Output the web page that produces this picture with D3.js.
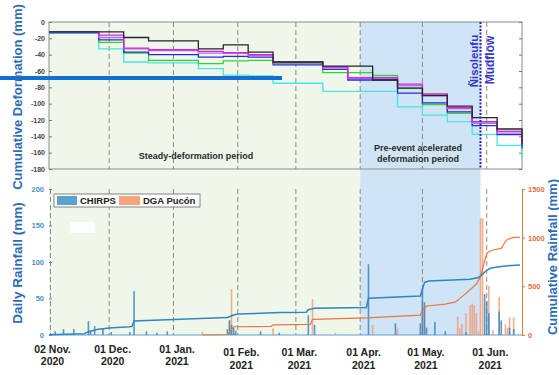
<!DOCTYPE html>
<html><head><meta charset="utf-8">
<script src="https://cdn.jsdelivr.net/npm/d3@7"></script>
<style>
html,body{margin:0;padding:0;background:#fff;}
svg{display:block;font-family:"Liberation Sans",Arial,sans-serif;}
</style></head>
<body><svg id="c" width="559" height="375"></svg>
<script>
// ---------- DATA ----------
const defDates = ["2020-11-02","2020-11-14","2020-11-26","2020-12-08","2020-12-20","2021-01-01","2021-01-13","2021-01-25","2021-02-06","2021-02-18","2021-03-02","2021-03-14","2021-03-26","2021-04-07","2021-04-19","2021-05-01","2021-05-13","2021-05-25","2021-06-06","2021-06-18"];
const defCyan    = [-14,-14,-33,-49,-50,-50,-57,-65,-66,-75,-75,-85,-85,-85,-104,-114,-122,-137.5,-151,-165];
const defGreen   = [-13,-13,-25,-38,-47,-47,-51,-47.5,-47,-50.5,-50.5,-62,-62,-65.5,-81,-101,-112,-124,-134,-152];
const defBlue    = [-13,-13,-22,-37,-40,-40,-43,-42,-43,-52.5,-52.5,-58,-71,-71,-87,-99,-110,-127,-138,-155];
const defViolet  = [-12,-12,-19,-33,-35,-35,-38,-38.5,-41,-50,-50,-56,-69,-69,-78,-90,-106,-124,-136,-150];
const defMagenta = [-12,-12,-16,-32,-34,-34,-36,-37.5,-40,-49,-49,-55,-68,-68,-76,-88,-105,-122,-134,-146];
const defBlack   = [-12,-12,-12,-19,-23,-23,-33,-28,-37,-49,-49,-54,-54,-71,-81,-90,-103,-117,-131,-150];

const chirpsDates = ["2020-11-05","2020-11-09","2020-11-14","2020-11-21","2020-11-22","2020-11-24","2020-11-28","2020-12-02","2020-12-11","2020-12-13","2020-12-19","2020-12-24","2020-12-29","2021-01-27","2021-01-28","2021-01-29","2021-01-30","2021-01-31","2021-02-12","2021-02-21","2021-03-07","2021-03-10","2021-04-05","2021-04-18","2021-04-30","2021-05-01","2021-05-02","2021-05-03","2021-05-07","2021-05-12","2021-05-22","2021-05-31","2021-06-01","2021-06-02","2021-06-07","2021-06-08","2021-06-12","2021-06-14"];
const chirpsDaily = [5,8,8,19,6,12,9,4,4,60,5,3,5,8,20,14,10,6,5,3,27,14,97,16,16,64,45,10,18,5,4,56,46,30,32,20,10,8];

const dgaDates = ["2021-01-15","2021-01-28","2021-01-29","2021-02-18","2021-03-09","2021-03-20","2021-04-07","2021-04-19","2021-05-01","2021-05-02","2021-05-18","2021-05-19","2021-05-20","2021-05-22","2021-05-24","2021-05-25","2021-05-26","2021-05-27","2021-05-28","2021-05-29","2021-05-30","2021-06-02","2021-06-04","2021-06-07","2021-06-10","2021-06-11","2021-06-12","2021-06-14"];
const dgaDaily = [4,20,63,9,49,3,14,9,45,40,25,9,15,30,41,43,41,30,5,160,160,67,7,52,15,10,24,24];

const chirpsCumDates = ["2020-11-02","2020-11-14","2020-11-19","2020-11-21","2020-11-25","2020-12-01","2020-12-11","2020-12-12","2020-12-13","2021-01-01","2021-01-27","2021-01-30","2021-02-01","2021-02-21","2021-03-06","2021-03-07","2021-03-10","2021-04-04","2021-04-05","2021-04-30","2021-05-01","2021-05-02","2021-05-04","2021-05-24","2021-05-28","2021-05-30","2021-06-01","2021-06-03","2021-06-07","2021-06-13","2021-06-17"];
const chirpsCum = [3,9,13,34,57,72,85,88,144,160,180,205,216,230,234,260,276,283,377,400,470,540,555,572,590,625,665,688,700,715,720];

const dgaCumDates = ["2021-01-15","2021-01-27","2021-01-28","2021-01-30","2021-02-17","2021-02-18","2021-03-08","2021-03-09","2021-04-04","2021-04-30","2021-05-01","2021-05-03","2021-05-12","2021-05-17","2021-05-22","2021-05-27","2021-05-29","2021-06-01","2021-06-02","2021-06-04","2021-06-08","2021-06-10","2021-06-11","2021-06-14","2021-06-17"];
const dgaCum = [0,5,25,85,88,105,110,161,175,205,250,298,318,340,428,524,599,840,856,873,890,960,982,1003,1003];

const tickDates = ["2020-11-02","2020-12-01","2021-01-01","2021-02-01","2021-03-01","2021-04-01","2021-05-01","2021-06-01"];
const tickLine1 = ["02 Nov.","01 Dec.","01 Jan.","01 Feb.","01 Mar.","01 Apr.","01 May.","01 Jun."];
const tickLine2 = ["2020","2020","2021","2021","2021","2021","2021","2021"];
const periodDates = ["2020-11-02","2021-04-01","2021-05-29"];
const eventDate = "2021-05-29";
const defTicks = [0,-20,-40,-60,-80,-100,-120,-140,-160,-180];
const dailyTicks = [0,50,100,150,200];
const cumTicks = [0,500,1000,1500];

// ---------- SETUP ----------
const P = d3.timeParse("%Y-%m-%d");
const svg = d3.select("#c");
const L = 49, R = 522, T1 = 22, B1 = 169, T2 = 189, B2 = 335;
const x = d3.scaleTime().domain([P("2020-11-02"), P("2021-06-18")]).range([L, R]);
const yDef = d3.scaleLinear().domain([-180, 0]).range([B1, T1]);
const yDay = d3.scaleLinear().domain([0, 200]).range([B2, T2]);
const yCum = d3.scaleLinear().domain([0, 1500]).range([B2, T2]);
const blueTxt = "#2d6cb5";

// background periods
const pd = periodDates.map(P);
svg.append("rect").attr("x", x(pd[0])).attr("y", T1).attr("width", x(pd[1]) - x(pd[0])).attr("height", B2 - T1).attr("fill", "#eff7ea");
svg.append("rect").attr("x", x(pd[1])).attr("y", T1).attr("width", x(pd[2]) - x(pd[1])).attr("height", B2 - T1).attr("fill", "#cfe4f5");

// dashed month lines
const td = tickDates.map(P);
svg.append("g").selectAll("line").data(td.slice(1)).join("line")
  .attr("x1", d => x(d)).attr("x2", d => x(d)).attr("y1", T1).attr("y2", B1)
  .attr("stroke", "#8a8a8a").attr("stroke-dasharray", "5,3").attr("stroke-width", 1);
svg.append("g").selectAll("line").data(td).join("line")
  .attr("x1", d => x(d) + (d === td[0] ? 1.5 : 0)).attr("x2", d => x(d) + (d === td[0] ? 1.5 : 0)).attr("y1", T2).attr("y2", B2)
  .attr("stroke", "#8a8a8a").attr("stroke-dasharray", "5,3").attr("stroke-width", 1);

// top panel frame
svg.append("rect").attr("x", L).attr("y", T1).attr("width", R - L).attr("height", B1 - T1)
  .attr("fill", "none").attr("stroke", "#8c8c8c").attr("stroke-width", 1);

// top axes
const gL = svg.append("g").attr("transform", `translate(${L},0)`)
  .call(d3.axisLeft(yDef).tickValues(defTicks).tickSize(-3).tickPadding(4).tickFormat(d => d === 0 ? "0" : "-" + Math.abs(d)));
gL.select(".domain").remove();
gL.selectAll("line").attr("stroke", "#777");
gL.selectAll("text").attr("font-size", 7).attr("font-weight", "bold").attr("fill", "#444").attr("font-family", "Liberation Sans, Arial, sans-serif");
const gR = svg.append("g").attr("transform", `translate(${R},0)`)
  .call(d3.axisRight(yDef).tickValues(defTicks).tickSize(-3).tickFormat(""));
gR.select(".domain").remove();
gR.selectAll("line").attr("stroke", "#777");

// deformation lines
const dd = defDates.map(P);
const series = [
  [defCyan, "#45e6e6"], [defGreen, "#2fd62f"], [defBlue, "#2a2ad6"],
  [defViolet, "#b06ef0"], [defMagenta, "#e01ee0"], [defBlack, "#262626"]
];
const lineDef = d3.line().x(d => x(d[0])).y(d => yDef(d[1])).curve(d3.curveStepAfter);
series.forEach(([vals, col]) => {
  svg.append("path").datum(dd.map((d, i) => [d, vals[i]]))
    .attr("d", lineDef).attr("fill", "none").attr("stroke", col).attr("stroke-width", 1.3);
});

// event dotted line
const ex = x(P(eventDate));
svg.append("line").attr("x1", ex).attr("x2", ex).attr("y1", T1).attr("y2", B1)
  .attr("stroke", "#2323c8").attr("stroke-width", 2).attr("stroke-dasharray", "2,1.5");
svg.append("text").attr("transform", `translate(${ex - 6.5},61) rotate(-90)`)
  .attr("text-anchor", "middle").attr("dominant-baseline", "central")
  .attr("font-size", 11.5).attr("font-weight", "bold").attr("fill", "#3535c8").text("Ñisoleufu");
svg.append("text").attr("transform", `translate(${ex + 9},60) rotate(-90)`)
  .attr("text-anchor", "middle").attr("dominant-baseline", "central")
  .attr("font-size", 12).attr("font-weight", "bold").attr("fill", "#3535c8").text("Mudflow");

// period labels
svg.append("text").attr("x", 196).attr("y", 159).attr("text-anchor", "middle")
  .attr("font-size", 9).attr("font-weight", "bold").attr("fill", "#2a2a2a").text("Steady-deformation period");
svg.append("text").attr("x", 418).attr("y", 151).attr("text-anchor", "middle")
  .attr("font-size", 9).attr("font-weight", "bold").attr("fill", "#2a2a2a").text("Pre-event acelerated");
svg.append("text").attr("x", 418).attr("y", 162).attr("text-anchor", "middle")
  .attr("font-size", 9).attr("font-weight", "bold").attr("fill", "#2a2a2a").text("deformation period");

// ---------- bottom panel ----------
svg.append("line").attr("x1", L).attr("x2", R).attr("y1", B2).attr("y2", B2).attr("stroke", "#5c9fd0").attr("stroke-width", 1.2);

// DGA daily bars
svg.append("g").selectAll("rect").data(dgaDates.map((d, i) => [P(d), dgaDaily[i]])).join("rect")
  .attr("x", d => x(d[0]) - 0.8).attr("width", 1.6)
  .attr("y", d => yDay(d[1])).attr("height", d => B2 - yDay(d[1]))
  .attr("fill", "#f29a72").attr("opacity", 0.8);
// CHIRPS daily bars
svg.append("g").selectAll("rect").data(chirpsDates.map((d, i) => [P(d), chirpsDaily[i]])).join("rect")
  .attr("x", d => x(d[0]) - 0.8).attr("width", 1.6)
  .attr("y", d => yDay(d[1])).attr("height", d => B2 - yDay(d[1]))
  .attr("fill", "#3c86bd").attr("opacity", 0.85);

// cumulative lines
const lineCum = d3.line().x(d => x(d[0])).y(d => yCum(d[1]));
svg.append("path").datum(dgaCumDates.map((d, i) => [P(d), dgaCum[i]]))
  .attr("d", lineCum).attr("fill", "none").attr("stroke", "#e8773f").attr("stroke-width", 1.2);
svg.append("path").datum(chirpsCumDates.map((d, i) => [P(d), chirpsCum[i]]))
  .attr("d", lineCum).attr("fill", "none").attr("stroke", "#2f86c0").attr("stroke-width", 1.5);

// left daily axis
const gD = svg.append("g").attr("transform", `translate(${L},0)`)
  .call(d3.axisLeft(yDay).tickValues(dailyTicks).tickSize(-3).tickPadding(5));
gD.select(".domain").remove();
gD.selectAll("line").attr("stroke", "#4a90c8");
gD.selectAll("text").attr("font-size", 7.5).attr("font-weight", "bold").attr("fill", "#4a90c8").attr("font-family", "Liberation Sans, Arial, sans-serif");

// right cumulative axis
const gC = svg.append("g").attr("transform", `translate(${R},0)`)
  .call(d3.axisRight(yCum).tickValues(cumTicks).tickSize(3).tickPadding(3).tickFormat(d3.format("d")));
gC.select(".domain").attr("stroke", "#e8773f");
gC.selectAll("line").attr("stroke", "#e8773f");
gC.selectAll("text").attr("font-size", 7.5).attr("font-weight", "bold").attr("fill", "#e0703a").attr("font-family", "Liberation Sans, Arial, sans-serif");

// x axis with two-line labels
const gX = svg.append("g").attr("transform", `translate(0,${B2})`)
  .call(d3.axisBottom(x).tickValues(td).tickSize(0).tickFormat(""));
gX.select(".domain").remove();
gX.selectAll(".tick").each(function(d, i) {
  const off = i < 3 ? 0 : 3.5;
  const t = d3.select(this).append("text").attr("text-anchor", "middle")
    .attr("font-size", 10.5).attr("font-weight", "bold").attr("fill", "#222")
    .attr("font-family", "Liberation Sans, Arial, sans-serif");
  t.append("tspan").attr("x", 3).attr("y", 17.5 + off).text(tickLine1[i]);
  t.append("tspan").attr("x", 3).attr("y", 30 + off).text(tickLine2[i]);
});

// legend
const lg = svg.append("g");
lg.append("rect").attr("x", 54).attr("y", 194).attr("width", 146).attr("height", 13).attr("fill", "#fff").attr("stroke", "#666").attr("stroke-width", 0.8);
lg.append("rect").attr("x", 57).attr("y", 196).attr("width", 20).attr("height", 9).attr("fill", "#5aa2d0");
lg.append("text").attr("x", 80).attr("y", 204.3).attr("font-size", 9.5).attr("font-weight", "bold").attr("fill", "#222").text("CHIRPS");
lg.append("rect").attr("x", 119).attr("y", 196).attr("width", 21).attr("height", 9).attr("fill", "#f5a47e");
lg.append("text").attr("x", 143).attr("y", 204.3).attr("font-size", 9.5).attr("font-weight", "bold").attr("fill", "#222").text("DGA Pucón");

// artifacts present in the reference image
svg.append("rect").attr("x", 70).attr("y", 222).attr("width", 25).attr("height", 11).attr("fill", "#fff");
svg.append("rect").attr("x", 0).attr("y", 76).attr("width", 282).attr("height", 4).attr("fill", "#0f6fd2");

// axis titles
svg.append("text").attr("transform", "translate(17,97) rotate(-90)").attr("text-anchor", "middle").attr("dominant-baseline", "central")
  .attr("font-size", 13).attr("font-weight", "bold").attr("fill", blueTxt).text("Cumulative Deformation (mm)");
svg.append("text").attr("transform", "translate(17,263) rotate(-90)").attr("text-anchor", "middle").attr("dominant-baseline", "central")
  .attr("font-size", 13.5).attr("font-weight", "bold").attr("fill", blueTxt).text("Daily Rainfall (mm)");
svg.append("text").attr("transform", "translate(552,257) rotate(-90)").attr("text-anchor", "middle").attr("dominant-baseline", "central")
  .attr("font-size", 13).attr("font-weight", "bold").attr("fill", blueTxt).text("Cumulative Rainfall (mm)");
</script></body></html>
